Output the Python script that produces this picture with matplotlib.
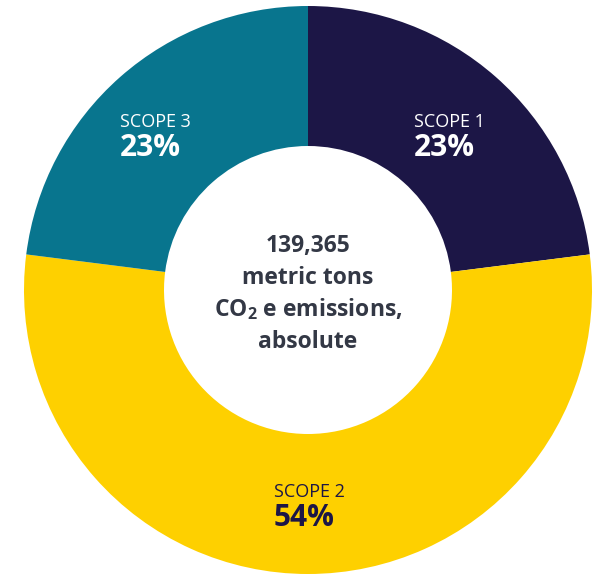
import matplotlib.pyplot as plt

plt.rcParams['font.family'] = ['Open Sans', 'DejaVu Sans']
plt.rcParams['mathtext.fontset'] = 'custom'
plt.rcParams['mathtext.rm'] = 'Open Sans:bold'
plt.rcParams['mathtext.bf'] = 'Open Sans:bold'

# data
scopes = ['SCOPE 1', 'SCOPE 2', 'SCOPE 3']
shares = [23, 54, 23]
colors = ['#1c1646', '#fed000', '#08758e']
label_colors = ['white', '#1c1646', 'white']
center_lines = ['139,365', 'metric tons', r'CO$_\mathrm{2}$ e emissions,', 'absolute']

fig = plt.figure(figsize=(5.97, 5.75), dpi=100)
ax = fig.add_axes([0, 0, 1, 1])

cx, cy = 308, 285
r_out, r_in = 284, 144
ax.pie(shares, colors=colors, startangle=90, counterclock=False,
       center=(cx, cy), radius=r_out,
       wedgeprops=dict(width=r_out - r_in, linewidth=0))

ax.set_xlim(0, 597)
ax.set_ylim(0, 575)
ax.set_aspect('equal')
ax.axis('off')

# label positions (left edge, baseline of name)
label_pos = [(414, 448), (274, 78), (120, 448)]
for name, val, col, (x, y) in zip(scopes, shares, label_colors, label_pos):
    ax.text(x, y, name, color=col, fontsize=13, ha='left', va='baseline')
    ax.text(x, y - 29, f'{val}%', color=col, fontsize=21.5, fontweight='bold',
            ha='left', va='baseline')

# center text
y = 323
for line in center_lines:
    ax.text(cx, y, line, color='#333845', fontsize=16.5, fontweight='bold',
            ha='center', va='baseline')
    y -= 32

fig.savefig('out.png', dpi=100)
